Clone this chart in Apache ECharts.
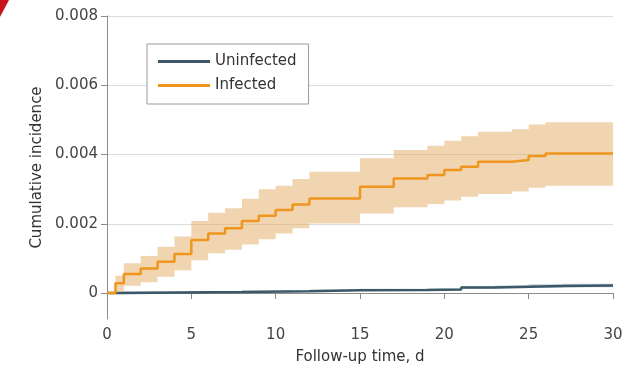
<!DOCTYPE html>
<html>
<head>
<meta charset="utf-8">
<script src="https://cdn.jsdelivr.net/npm/echarts@6/dist/echarts.min.js"></script>
<style>
html, body { margin: 0; padding: 0; background: #fff; }
#main { width: 637px; height: 373px; }
</style>
</head>
<body>
<div id="main"></div>
<script>
// event days (step points) for infected group
var infDays = [0, 0.5, 1, 2, 3, 4, 5, 6, 7, 8, 9, 10, 11, 12, 15, 17, 19, 20, 21, 22, 24, 25, 26, 30];
var infected = [0, 0.00028, 0.00055, 0.00071, 0.0009, 0.00113, 0.00153, 0.00172, 0.00187, 0.00208, 0.00223, 0.0024, 0.00256, 0.00273, 0.00307, 0.00331, 0.00341, 0.00355, 0.00365, 0.00379, 0.00384, 0.00396, 0.00403, 0.00403];
var infUpper = [0, 0.0005, 0.00086, 0.00107, 0.00134, 0.00163, 0.00208, 0.00232, 0.00245, 0.00272, 0.003, 0.0031, 0.00329, 0.0035, 0.00389, 0.00413, 0.00425, 0.0044, 0.00453, 0.00466, 0.00473, 0.00487, 0.00493, 0.00493];
var infLower = [0, 0.00004, 0.00021, 0.00031, 0.00047, 0.00066, 0.00095, 0.00115, 0.00125, 0.0014, 0.00155, 0.00172, 0.00187, 0.00201, 0.0023, 0.00248, 0.00257, 0.00267, 0.00278, 0.00286, 0.00293, 0.00304, 0.0031, 0.0031];

// uninfected group
var uninfDays = [0, 1, 8, 12, 15, 19, 21, 23, 25, 27, 30];
var uninfected = [0, 0.00003, 0.00005, 0.00008, 0.00009, 0.0001, 0.00016, 0.00018, 0.0002, 0.00022, 0.00022];
var uninfUpper = [0, 0.00005, 0.00007, 0.0001, 0.00012, 0.00013, 0.0002, 0.00022, 0.00025, 0.00027, 0.00027];
var uninfLower = [0, 0.00001, 0.00003, 0.00006, 0.00006, 0.00007, 0.00012, 0.00014, 0.00015, 0.00017, 0.00017];

var xTicks = [0, 5, 10, 15, 20, 25, 30];
var yTicks = [0, 0.002, 0.004, 0.006, 0.008];

function pairs(xs, ys) {
    return xs.map(function (x, i) { return [x, ys[i]]; });
}

// step-shaped confidence band as one polygon, placed with api.coord
function bandRenderer(xs, hi, lo, color) {
    return function (params, api) {
        var top = [], bottom = [];
        for (var i = 0; i < xs.length - 1; i++) {
            top.push(api.coord([xs[i], hi[i]]), api.coord([xs[i + 1], hi[i]]));
            bottom.push(api.coord([xs[i], lo[i]]), api.coord([xs[i + 1], lo[i]]));
        }
        return {
            type: 'polygon',
            shape: { points: top.concat(bottom.reverse()) },
            style: { fill: color }
        };
    };
}

var chart = echarts.init(document.getElementById('main'));
var font = 'DejaVu Sans';
var orange = '#f0961e';
var slate = '#3b5868';

var option = {
    animation: false,
    textStyle: { fontFamily: font },
    graphic: [{
        type: 'polygon',
        shape: { points: [[0, 0], [9, 0], [0, 17]] },
        style: { fill: '#c8141e' }
    }],
    grid: { left: 107, right: 24, top: 16, bottom: 54 },
    legend: {
        left: 147, top: 44,
        orient: 'vertical',
        itemWidth: 52, itemHeight: 3, itemGap: 9,
        padding: [10, 12, 11, 11],
        borderColor: '#9a9a9a', borderWidth: 1,
        backgroundColor: '#fff',
        icon: 'rect',
        textStyle: { fontSize: 15, color: '#333', fontFamily: font },
        data: [
            { name: 'Uninfected', itemStyle: { color: slate } },
            { name: 'Infected', itemStyle: { color: orange } }
        ]
    },
    xAxis: {
        type: 'value', min: 0, max: 30, interval: 5,
        name: 'Follow-up time, d', nameLocation: 'middle', nameGap: 31,
        nameTextStyle: { fontSize: 15, color: '#333' },
        axisLine: { show: true, lineStyle: { color: '#8c8c8c' } },
        axisTick: { show: true, length: 6, lineStyle: { color: '#8c8c8c' } },
        axisLabel: { fontSize: 15, color: '#444', margin: 9 },
        splitLine: { show: false }
    },
    yAxis: {
        type: 'value', min: -0.00075, max: 0.008,
        name: 'Cumulative incidence', nameLocation: 'middle', nameGap: 59,
        nameTextStyle: { fontSize: 15, color: '#333' },
        axisLine: { show: true, lineStyle: { color: '#8c8c8c' } },
        axisTick: { show: true, length: 6, customValues: yTicks, lineStyle: { color: '#8c8c8c' } },
        axisLabel: {
            fontSize: 15, color: '#444', margin: 9, customValues: yTicks,
            formatter: function (v) { return v === 0 ? '0' : v.toFixed(3); }
        },
        splitLine: { show: true, lineStyle: { color: '#dcdcdc', width: 1 } }
    },
    series: [
        {
            name: 'infBand', type: 'custom', silent: true, data: [[0, 0]],
            renderItem: bandRenderer(infDays, infUpper, infLower, 'rgba(228,172,100,0.5)')
        },
        {
            name: 'uninfBand', type: 'custom', silent: true, data: [[0, 0]],
            renderItem: bandRenderer(uninfDays, uninfUpper, uninfLower, 'rgba(120,150,165,0.45)')
        },
        {
            name: 'Uninfected', type: 'line', step: 'end', symbol: 'none',
            lineStyle: { color: slate, width: 2.5 }, itemStyle: { color: slate },
            data: pairs(uninfDays, uninfected)
        },
        {
            name: 'Infected', type: 'line', step: 'end', symbol: 'none',
            lineStyle: { color: orange, width: 2.5 }, itemStyle: { color: orange },
            data: pairs(infDays, infected)
        }
    ]
};
chart.setOption(option);
</script>
</body>
</html>
